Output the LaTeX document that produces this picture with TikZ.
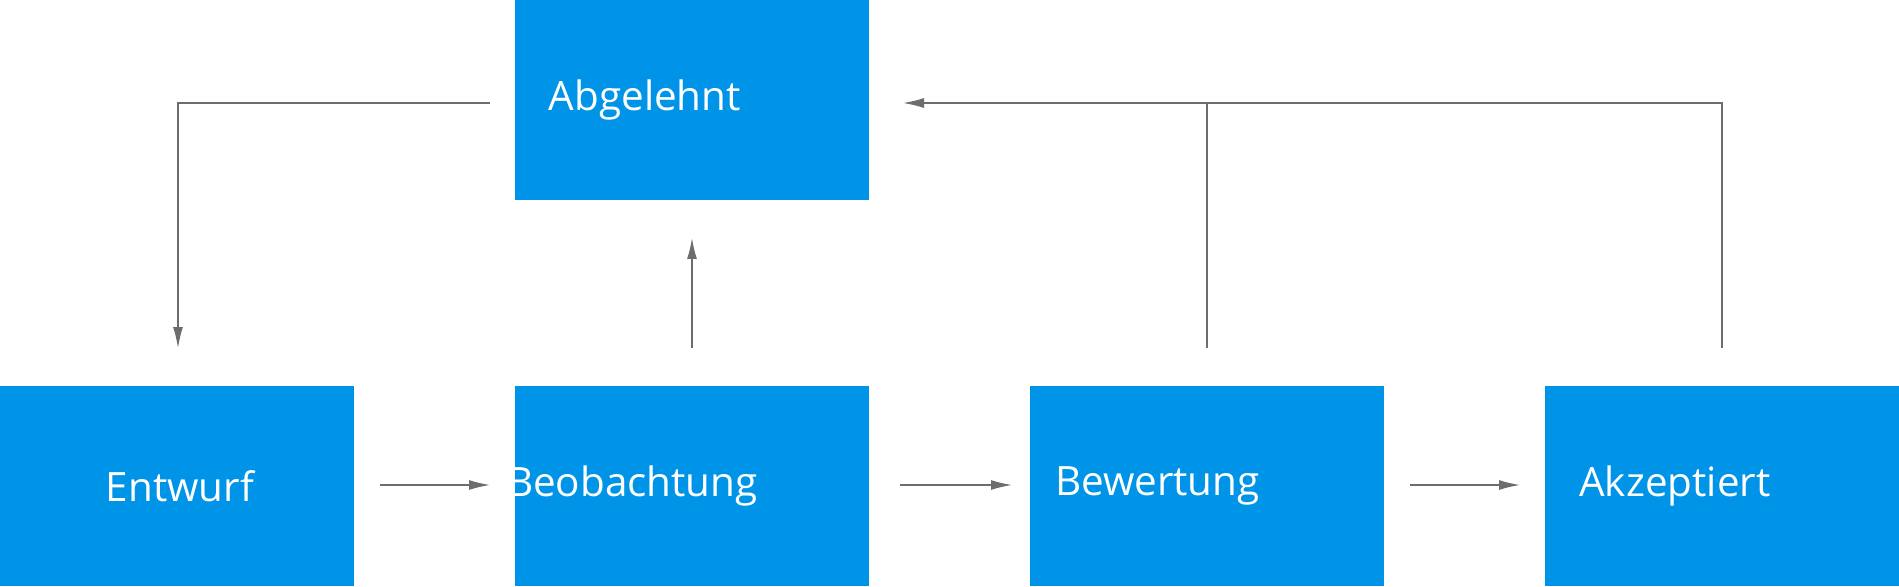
\documentclass[tikz,border=0pt]{standalone}
\usepackage{fontspec}
\setmainfont{Open Sans}
\usetikzlibrary{arrows.meta}
\definecolor{boxblue}{HTML}{0094E8}
\definecolor{linegray}{HTML}{6D6D6D}
\begin{document}
\begin{tikzpicture}[x=0.02cm, y=-0.02cm,
    state/.style={fill=boxblue, minimum width=354*0.02cm, minimum height=200*0.02cm, inner sep=0pt, anchor=north west},
    txt/.style={text=white, font=\fontsize{23}{27}\selectfont},
    flow/.style={draw=linegray, line width=0.8pt, -{Latex[length=0.42cm, width=0.2cm]}}]
\useasboundingbox (0,0) rectangle (1899,587);
\node[state] (abg) at (515,0) {};
\node[state] (ent) at (0,386) {};
\node[state] (beo) at (515,386) {};
\node[state] (bew) at (1030,386) {};
\node[state] (akz) at (1545,386) {};
\node[txt] at ([xshift=-0.95cm]abg.center) {Abgelehnt};
\node[txt] at ([xshift=0.05cm]ent.center) {Entwurf};
\node[txt] at ([xshift=-1.2cm]beo.center) {Beobachtung};
\node[txt] at ([xshift=-1.0cm]bew.center) {Bewertung};
\node[txt] at ([xshift=-0.95cm]akz.center) {Akzeptiert};
% Verbindungen
\coordinate (e1) at (380,485);
\coordinate (e2) at (490,485);
\coordinate (b1) at (900,485);
\coordinate (b2) at (1012,485);
\coordinate (w1) at (1410,485);
\coordinate (w2) at (1520,485);
\draw[flow] (e1)--(e2);
\draw[flow] (b1)--(b2);
\draw[flow] (w1)--(w2);
\draw[flow] (692,348)--(692,238);
\draw[flow] (490,103)--(178,103)--(178,348);
\draw[draw=linegray, line width=0.8pt] (1207,348)--(1207,103);
\draw[flow] (1722,348)--(1722,103)--(903,103);
\end{tikzpicture}
\end{document}
